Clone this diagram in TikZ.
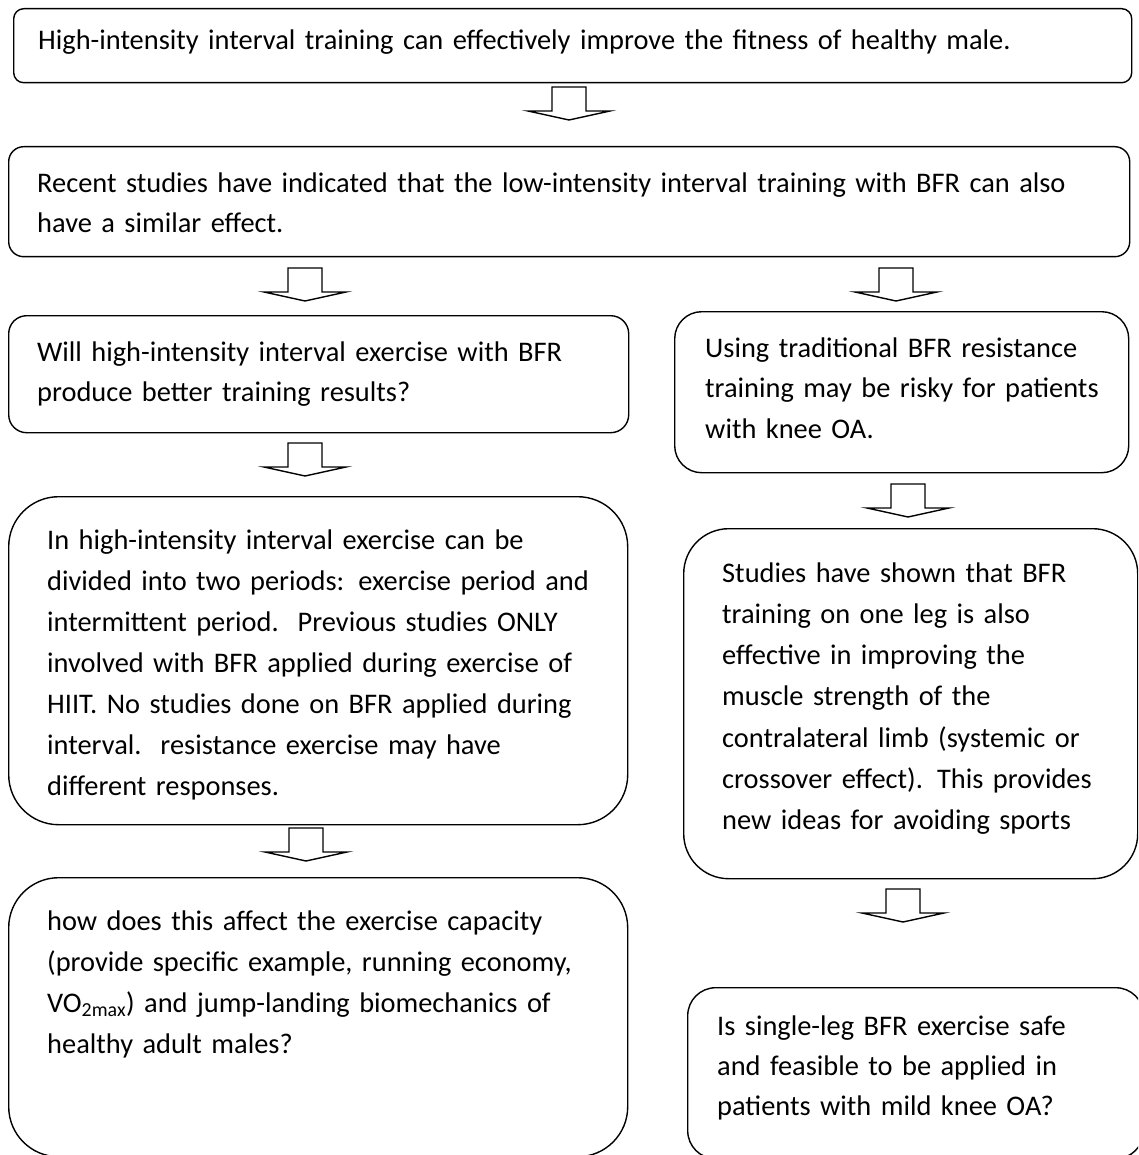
\documentclass[tikz,border=0pt]{standalone}
\usepackage{fontspec}
\setmainfont{Carlito}
\newcommand\dnarrow[3]{%
  \coordinate (#1) at (#2,#3);
  \draw[blockarrow] (#1) ++(-17,0) -- ++(0,24) -- ++(-24,0) -- ++(41,9) -- ++(41,-9) -- ++(-24,0) -- ++(0,-24) -- cycle;}
\begin{document}
\begin{tikzpicture}[x=1pt,y=-1pt,
  box/.style={draw=black, line width=1.4pt, inner sep=0pt, anchor=north west},
  txt/.style={anchor=base west, inner sep=0pt, align=left, text width=1100pt, font=\fontsize{28.4}{41}\selectfont},
  blockarrow/.style={draw=black, line width=1.4pt, fill=white, line join=miter}]
\useasboundingbox (0,0) rectangle (1138,1155);
\clip (0,0) rectangle (1138,1155);

% boxes
\node[box, rounded corners=10pt, minimum width=1118pt, minimum height=74pt] (b1) at (13,8) {};
\node[box, rounded corners=15pt, minimum width=1121pt, minimum height=110pt] (b2) at (8,146) {};
\node[box, rounded corners=18pt, minimum width=620pt, minimum height=117pt] (b3) at (8,315) {};
\node[box, rounded corners=27pt, minimum width=454pt, minimum height=161pt] (b4) at (674,311) {};
\node[box, rounded corners=50pt, minimum width=619pt, minimum height=328pt] (b5) at (8,496) {};
\node[box, rounded corners=50pt, minimum width=619pt, minimum height=279pt] (b6) at (8,877) {};
\node[box, rounded corners=45pt, minimum width=454pt, minimum height=350pt] (b7) at (683,528) {};
\node[box, rounded corners=28pt, minimum width=456pt, minimum height=171pt] (b8) at (687,987) {};

% texts
\node[txt] (t1) at (38,50) {High-intensity interval training can effectively improve the fitness of healthy male.};
\node[txt, font=\fontsize{28.4}{40}\selectfont] (t2) at (37,193) {Recent studies have indicated that the low-intensity interval training with BFR can also\\have a similar effect.};
\node[txt, font=\fontsize{28.4}{40}\selectfont] (t3) at (37,361) {Will high-intensity interval exercise with BFR\\produce better training results?};
\node[txt, font=\fontsize{28.4}{40.5}\selectfont] (t4) at (705,357) {Using traditional BFR resistance\\training may be risky for patients\\with knee OA.};
\node[txt] (t5) at (47,549) {In high-intensity interval exercise can be\\divided into two periods: exercise period and\\intermittent period.\ \ Previous studies ONLY\\involved with BFR applied during exercise of\\HIIT. No studies done on BFR applied during\\interval.\ \ resistance exercise may have\\different responses.};
\node[txt] (t6) at (47,930) {how does this affect the exercise capacity\\(provide specific example, running economy,\\VO\textsubscript{2max}) and jump-landing biomechanics of\\healthy adult males?};
\node[txt, font=\fontsize{28.4}{41.3}\selectfont] (t7) at (722,582) {Studies have shown that BFR\\training on one leg is also\\effective in improving the\\muscle strength of the\\contralateral limb (systemic or\\crossover effect). This provides\\new ideas for avoiding sports};
\node[txt, font=\fontsize{28.4}{40}\selectfont] (t8) at (717,1035) {Is single-leg BFR exercise safe\\and feasible to be applied in\\patients with mild knee OA?};

% block arrows
\dnarrow{a1}{569}{87}
\dnarrow{a2}{305}{268}
\dnarrow{a3}{896}{268}
\dnarrow{a4}{305}{443}
\dnarrow{a5}{908}{484}
\dnarrow{a6}{306}{828}
\dnarrow{a7}{903}{889}
\end{tikzpicture}
\end{document}
